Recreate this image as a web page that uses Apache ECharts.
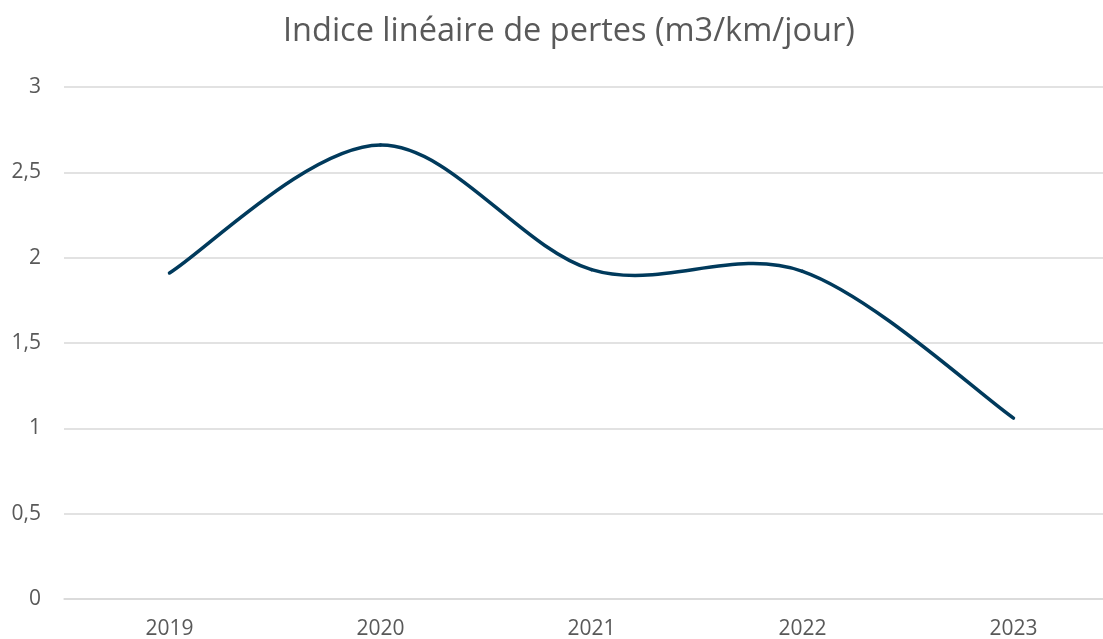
<!DOCTYPE html>
<html>
<head>
<meta charset="utf-8">
<script src="https://cdn.jsdelivr.net/npm/echarts@6/dist/echarts.min.js"></script>
<style>html,body{margin:0;padding:0;background:#fff}#c{width:1103px;height:639px}</style>
</head>
<body>
<div id="c"></div>
<script>
const titleText = 'Indice linéaire de pertes (m3/km/jour)';
const categories = ['2019', '2020', '2021', '2022', '2023'];
const values = [1.91, 2.66, 1.93, 1.92, 1.06];
const yTicks = { min: 0, max: 3, interval: 0.5 };

const LINE_COLOR = '#003a5c';

// Excel-style smoothed line: each data item draws the Bezier segment to the next point,
// using points projected through the chart's own axes (api.coord).
function renderSegment(params, api) {
  const i = params.dataIndex;
  const n = values.length;
  if (i >= n - 1) return null;
  const P = k => api.coord([Math.max(0, Math.min(n - 1, k)), values[Math.max(0, Math.min(n - 1, k))]]);
  const p0 = P(i - 1), p1 = P(i), p2 = P(i + 1), p3 = P(i + 2);
  return {
    type: 'bezierCurve',
    shape: {
      x1: p1[0], y1: p1[1],
      x2: p2[0], y2: p2[1],
      cpx1: p1[0] + (p2[0] - p0[0]) / 6, cpy1: p1[1] + (p2[1] - p0[1]) / 6,
      cpx2: p2[0] - (p3[0] - p1[0]) / 6, cpy2: p2[1] - (p3[1] - p1[1]) / 6
    },
    style: { stroke: LINE_COLOR, lineWidth: 3.5, fill: null, lineCap: 'round' }
  };
}

const chart = echarts.init(document.getElementById('c'));
chart.setOption({
  animation: false,
  title: {
    text: titleText,
    left: 278,
    top: 10,
    textStyle: { fontFamily: 'Open Sans', fontSize: 32.5, fontWeight: 'normal', color: '#595959' }
  },
  grid: { left: 64, width: 1055, top: 87, bottom: 40, containLabel: false, outerBoundsMode: 'none' },
  xAxis: {
    type: 'category',
    data: categories,
    boundaryGap: true,
    axisLine: { lineStyle: { color: '#d9d9d9', width: 1.5 } },
    axisTick: { show: false },
    axisLabel: { margin: 20, fontFamily: 'Open Sans', fontSize: 21, color: '#595959' }
  },
  yAxis: {
    type: 'value',
    min: yTicks.min, max: yTicks.max, interval: yTicks.interval,
    axisLine: { show: false },
    axisTick: { show: false },
    splitLine: { lineStyle: { color: '#d9d9d9', width: 1.5 } },
    axisLabel: {
      margin: 23, fontFamily: 'Open Sans', fontSize: 21, color: '#595959',
      formatter: v => String(v).replace('.', ',')
    }
  },
  series: [{
    type: 'custom',
    renderItem: renderSegment,
    clip: false,
    encode: { x: 0, y: 1 },
    data: categories.map((c, i) => [i, values[i]])
  }]
});
</script>
</body>
</html>
